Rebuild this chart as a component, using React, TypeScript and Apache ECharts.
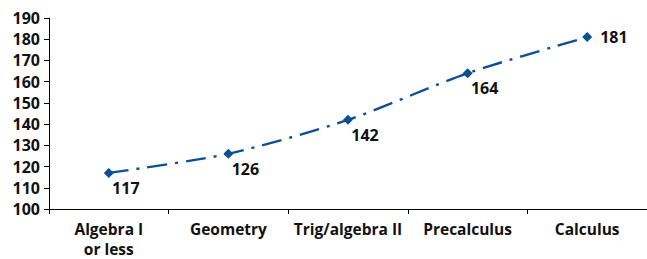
import React, { useEffect, useRef } from "react";
import * as echarts from "echarts";

const categories = ["Algebra I\nor less", "Geometry", "Trig/algebra II", "Precalculus", "Calculus"];
const values = [117, 126, 142, 164, 181];
const yMin = 100;
const yMax = 190;
const yInterval = 10;

const FONT = "'Open Sans', sans-serif";
const COLOR = "#0b4f96";

export default function App() {
  const ref = useRef<HTMLDivElement>(null);
  useEffect(() => {
    if (!ref.current) return;
    const chart = echarts.init(ref.current, null, { renderer: "svg" });
    chart.setOption({
      animation: false,
      grid: { left: 49, right: -8, top: 18, bottom: 45, containLabel: false },
      xAxis: {
        type: "category",
        data: categories,
        boundaryGap: true,
        axisLine: { lineStyle: { color: "#000", width: 1 } },
        axisTick: { show: true, length: 5, lineStyle: { color: "#000" } },
        axisLabel: {
          interval: 0,
          color: "#111",
          fontFamily: FONT,
          fontWeight: "bold",
          fontSize: 15.5,
          lineHeight: 20,
          margin: 10,
        },
      },
      yAxis: {
        type: "value",
        min: yMin,
        max: yMax,
        interval: yInterval,
        axisLine: { show: true, lineStyle: { color: "#000", width: 1 } },
        axisTick: { show: true, length: 5, lineStyle: { color: "#000" } },
        splitLine: { show: false },
        axisLabel: {
          color: "#111",
          fontFamily: FONT,
          fontWeight: "bold",
          fontSize: 16,
          margin: 9,
        },
      },
      series: [
        {
          type: "line",
          data: values.map((v, i) =>
            i === values.length - 1
              ? { value: v, label: { position: "right", offset: [3, 0] } }
              : v
          ),
          smooth: 0.25,
          symbol: "diamond",
          symbolSize: 10,
          itemStyle: { color: COLOR },
          lineStyle: { color: COLOR, width: 2.4, type: [20, 8, 3, 8] },
          label: {
            show: true,
            position: "bottom",
            offset: [17, -3],
            color: "#111",
            fontFamily: FONT,
            fontWeight: "bold",
            fontSize: 16,
          },
        },
      ],
    });
    return () => chart.dispose();
  }, []);
  return <div ref={ref} style={{ width: 647, height: 259, position: "absolute", left: 0, top: 0 }} />;
}
